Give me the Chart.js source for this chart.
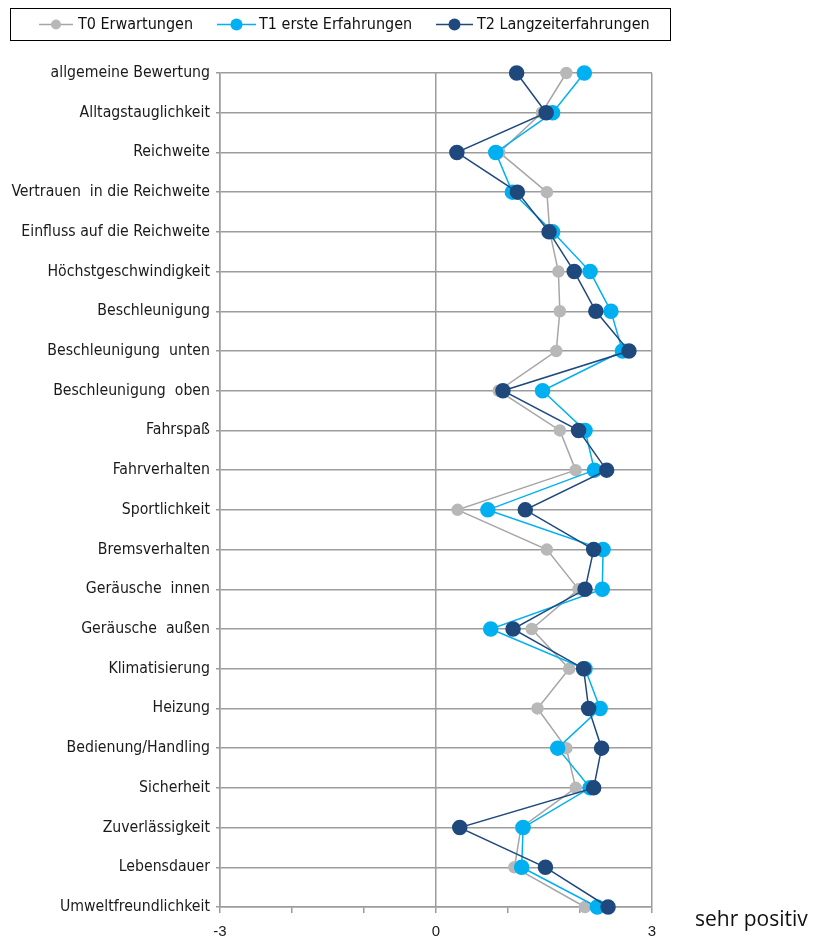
<!DOCTYPE html>
<html>
<head>
<meta charset="utf-8">
<script src="https://cdn.jsdelivr.net/npm/chart.js@4"></script>
<style>
  html, body { margin: 0; padding: 0; background: #fff; }
  #wrap { position: relative; width: 819px; height: 940px; }
</style>
</head>
<body>
<div id="wrap"><canvas id="chart" width="819" height="940"></canvas></div>
<script>
'use strict';

// Categories, top to bottom.
const categories = [
  'allgemeine Bewertung', 'Alltagstauglichkeit', 'Reichweite', 'Vertrauen  in die Reichweite',
  'Einfluss auf die Reichweite', 'Höchstgeschwindigkeit', 'Beschleunigung', 'Beschleunigung  unten',
  'Beschleunigung  oben', 'Fahrspaß', 'Fahrverhalten', 'Sportlichkeit', 'Bremsverhalten',
  'Geräusche  innen', 'Geräusche  außen', 'Klimatisierung', 'Heizung', 'Bedienung/Handling',
  'Sicherheit', 'Zuverlässigkeit', 'Lebensdauer', 'Umweltfreundlichkeit'
];

// Series values (scale -3 .. 3).
const t0Values = [1.81, 1.47, 0.88, 1.54, 1.58, 1.70, 1.72, 1.67, 0.87, 1.72, 1.94, 0.30, 1.54, 1.98, 1.33, 1.85, 1.41, 1.81, 1.94, 1.18, 1.09, 2.07];
const t1Values = [2.06, 1.62, 0.83, 1.06, 1.62, 2.14, 2.43, 2.59, 1.48, 2.07, 2.20, 0.72, 2.32, 2.31, 0.76, 2.07, 2.28, 1.69, 2.14, 1.21, 1.19, 2.24];
const t2Values = [1.12, 1.53, 0.29, 1.13, 1.57, 1.92, 2.22, 2.68, 0.93, 1.98, 2.37, 1.24, 2.19, 2.07, 1.07, 2.05, 2.12, 2.30, 2.19, 0.33, 1.52, 2.39];

const seriesNames = ['T0 Erwartungen', 'T1 erste Erfahrungen', 'T2 Langzeiterfahrungen'];
const xTickLabels = [-3, 0, 3];

const gridGrey = '#9c9c9c';
const narrowFont = "'Liberation Sans Narrow', 'Arial Narrow', 'DejaVu Sans Condensed', sans-serif";

// Legend with line + marker, drawn in the box at the top.
const legendItems = [
  { text: seriesNames[0], color: '#a6a6a6', fill: '#b8b8b8', r: 5, x1: 39, x2: 73, tx: 78 },
  { text: seriesNames[1], color: '#00b0f0', fill: '#00b0f0', r: 6, x1: 217, x2: 256, tx: 259 },
  { text: seriesNames[2], color: '#1f497d', fill: '#1f497d', r: 6, x1: 436, x2: 473, tx: 477 }
];

const extrasPlugin = {
  id: 'extras',
  afterDraw(chart) {
    const ctx = chart.ctx;
    ctx.save();
    ctx.strokeStyle = '#000';
    ctx.lineWidth = 1;
    ctx.strokeRect(10.5, 8.5, 660, 32);
    ctx.font = '16px ' + narrowFont;
    ctx.textBaseline = 'middle';
    ctx.textAlign = 'left';
    for (const it of legendItems) {
      ctx.strokeStyle = it.color;
      ctx.lineWidth = 1.5;
      ctx.beginPath();
      ctx.moveTo(it.x1, 24.5);
      ctx.lineTo(it.x2, 24.5);
      ctx.stroke();
      ctx.fillStyle = it.fill;
      ctx.beginPath();
      ctx.arc((it.x1 + it.x2) / 2, 24.5, it.r, 0, Math.PI * 2);
      ctx.fill();
      ctx.fillStyle = '#111';
      ctx.fillText(it.text, it.tx, 25);
    }
    ctx.font = "21px 'Open Sans', sans-serif";
    ctx.fillStyle = '#111';
    ctx.textBaseline = 'alphabetic';
    ctx.fillText('sehr positiv', 695, 926);
    ctx.restore();
  }
};

const data = {
  labels: categories,
  datasets: [
    {
      label: seriesNames[0],
      data: t0Values,
      borderColor: '#a6a6a6',
      backgroundColor: '#b8b8b8',
      pointBackgroundColor: '#b8b8b8',
      pointBorderColor: '#b8b8b8',
      borderWidth: 1.5,
      pointRadius: 5.5,
      order: 2,
      clip: false
    },
    {
      label: seriesNames[1],
      data: t1Values,
      borderColor: '#00b0f0',
      backgroundColor: '#00b0f0',
      pointBackgroundColor: '#00b0f0',
      pointBorderColor: '#00b0f0',
      borderWidth: 1.5,
      pointRadius: 7,
      order: 1,
      clip: false
    },
    {
      label: seriesNames[2],
      data: t2Values,
      borderColor: '#1f497d',
      backgroundColor: '#1f497d',
      pointBackgroundColor: '#1f497d',
      pointBorderColor: '#1f497d',
      borderWidth: 1.5,
      pointRadius: 7,
      order: 0,
      clip: false
    }
  ]
};

const config = {
  type: 'line',
  data: data,
  options: {
    indexAxis: 'y',
    responsive: false,
    animation: false,
    layout: { padding: { top: 73, right: 167, bottom: 0, left: 0 } },
    plugins: {
      legend: { display: false },
      tooltip: { enabled: false }
    },
    elements: { line: { tension: 0 }, point: { borderWidth: 0 } },
    scales: {
      y: {
        type: 'category',
        offset: false,
        afterFit(scale) { scale.width = 220; },
        grid: { color: gridGrey, lineWidth: 1.5, tickLength: 4, tickColor: gridGrey },
        border: { color: gridGrey, width: 1.5 },
        ticks: {
          padding: 6,
          color: '#1a1a1a',
          font: { family: narrowFont, size: 15.7 },
          autoSkip: false
        }
      },
      x: {
        type: 'linear',
        min: -3,
        max: 3,
        afterFit(scale) { scale.height = 33; },
        grid: {
          color: (c) => (c.tick && xTickLabels.includes(c.tick.value)) ? gridGrey : 'rgba(0,0,0,0)',
          tickColor: gridGrey,
          lineWidth: 1.5,
          tickLength: 6
        },
        border: { color: gridGrey, width: 1.5 },
        ticks: {
          stepSize: 1,
          padding: 10,
          color: '#1a1a1a',
          font: { family: "'Liberation Sans', Arial, sans-serif", size: 15 },
          callback: (v) => xTickLabels.includes(v) ? String(v) : ''
        }
      }
    }
  },
  plugins: [extrasPlugin]
};

const chart = new Chart(document.getElementById('chart'), config);
</script>
</body>
</html>
